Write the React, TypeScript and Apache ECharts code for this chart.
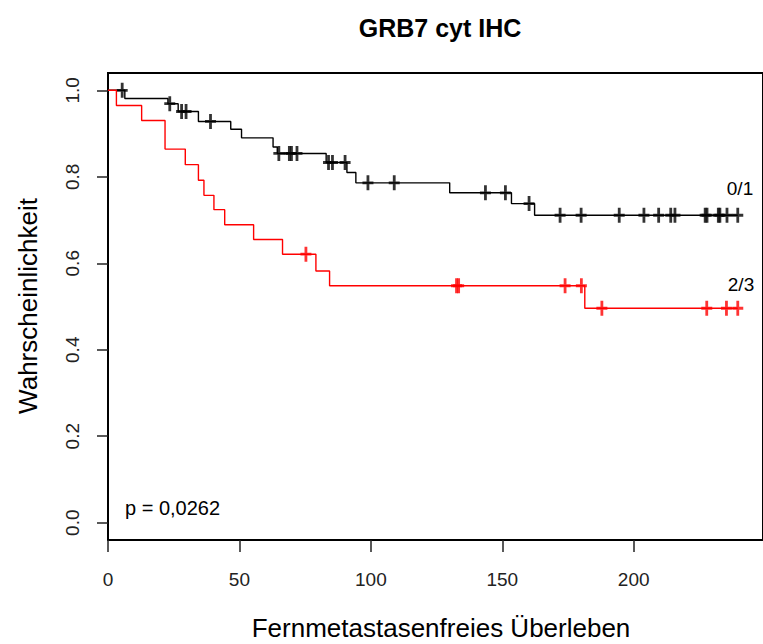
import React, { useEffect, useRef } from "react";
import * as echarts from "echarts";

// Group 0/1 (black): event times and survival after each step
const blackTimes = [0, 6.4, 22.8, 26.7, 34.4, 46.7, 50.8, 62.8, 64.4, 83.0, 90.9, 94.3, 130.0, 153.5, 162.3, 239.6];
const blackSurv = [1, 0.981, 0.969, 0.951, 0.928, 0.91, 0.89, 0.869, 0.854, 0.833, 0.81, 0.786, 0.763, 0.738, 0.711, 0.711];
const blackCensor = [5.4, 23.5, 28.0, 29.7, 39.0, 65.0, 69.0, 69.8, 71.9, 83.9, 85.4, 90.2, 98.9, 108.9, 143.6, 151.2, 160.2, 172.0, 180.0, 194.5, 203.9, 209.5, 214.1, 215.7, 227.2, 227.9, 232.2, 232.8, 235.5, 239.6];

// Group 2/3 (red)
const redTimes = [0, 3.2, 12.8, 21.7, 29.4, 34.4, 36.5, 40.3, 44.4, 55.4, 66.4, 79.1, 84.3, 181.4, 239.6];
const redSurv = [1, 0.965, 0.93, 0.864, 0.828, 0.792, 0.757, 0.724, 0.689, 0.655, 0.621, 0.582, 0.548, 0.496, 0.496];
const redCensor = [75.3, 132.6, 133.4, 173.9, 180.1, 187.9, 227.8, 235.3, 239.6];

const xTicks = [0, 50, 100, 150, 200];
const yTicks = [0, 0.2, 0.4, 0.6, 0.8, 1.0];

const groupLabels = ["0/1", "2/3"];
const titleText = "GRB7 cyt IHC";
const xTitle = "Fernmetastasenfreies Überleben";
const yTitle = "Wahrscheinlichkeit";
const pText = "p = 0,0262";

const FONT = "Liberation Sans, Arial, sans-serif";
const PLUS = "path://M4.1,0H6.9V6.1H11V8.9H6.9V15H4.1V8.9H0V6.1H4.1Z";

function survAt(times: number[], surv: number[], t: number): number {
  let s = surv[0];
  for (let i = 0; i < times.length; i++) {
    if (times[i] <= t) s = surv[i];
  }
  return s;
}

export default function App() {
  const ref = useRef<HTMLDivElement>(null);
  useEffect(() => {
    if (!ref.current) return;
    const chart = echarts.init(ref.current, null, { renderer: "svg" });
    const blackLine = blackTimes.map((t, i) => [t, blackSurv[i]]);
    const redLine = redTimes.map((t, i) => [t, redSurv[i]]);
    const blackPts = blackCensor.map((t) => [t, survAt(blackTimes, blackSurv, t)]);
    const redPts = redCensor.map((t) => [t, survAt(redTimes, redSurv, t)]);
    chart.setOption({
      animation: false,
      backgroundColor: "#fff",
      grid: {
        left: 108,
        top: 73,
        right: -11,
        bottom: 104,
        show: true,
        borderColor: "#000",
        borderWidth: 2,
        backgroundColor: "transparent",
      },
      xAxis: {
        type: "value",
        min: 0,
        max: 249.2,
        axisLine: { show: false, onZero: false },
        splitLine: { show: false },
        axisTick: {
          show: true,
          customValues: xTicks,
          length: 12,
          lineStyle: { color: "#222", width: 1.5 },
        },
        axisLabel: {
          customValues: xTicks,
          fontSize: 19,
          color: "#222",
          margin: 30,
          fontFamily: FONT,
        },
      },
      yAxis: {
        type: "value",
        min: -0.04,
        max: 1.04,
        axisLine: { show: false, onZero: false },
        splitLine: { show: false },
        axisTick: {
          show: true,
          customValues: yTicks,
          length: 11,
          lineStyle: { color: "#222", width: 1.5 },
        },
        axisLabel: {
          customValues: yTicks,
          rotate: 90,
          fontSize: 19,
          color: "#222",
          margin: 26,
          fontFamily: FONT,
          formatter: (v: number) => v.toFixed(1),
        },
      },
      series: [
        {
          type: "line",
          step: "end",
          data: blackLine,
          symbol: "none",
          lineStyle: { color: "#000", width: 1.4 },
          z: 2,
        },
        {
          type: "scatter",
          data: blackPts,
          symbol: PLUS,
          symbolSize: [11, 15],
          itemStyle: { color: "#000" },
          z: 3,
        },
        {
          type: "line",
          step: "end",
          data: redLine,
          symbol: "none",
          lineStyle: { color: "#ff0000", width: 1.4 },
          z: 4,
        },
        {
          type: "scatter",
          data: redPts,
          symbol: PLUS,
          symbolSize: [11, 15],
          itemStyle: { color: "#ff0000" },
          z: 5,
        },
      ],
      graphic: [
        {
          type: "text",
          x: 440,
          y: 28,
          style: {
            text: titleText,
            font: `bold 25px ${FONT}`,
            fill: "#000",
            textAlign: "center",
            textVerticalAlign: "middle",
          },
        },
        {
          type: "text",
          x: 441,
          y: 628,
          style: {
            text: xTitle,
            font: `26px ${FONT}`,
            fill: "#000",
            textAlign: "center",
            textVerticalAlign: "middle",
          },
        },
        {
          type: "text",
          x: 28,
          y: 306,
          rotation: Math.PI / 2,
          style: {
            text: yTitle,
            font: `26px ${FONT}`,
            fill: "#000",
            textAlign: "center",
            textVerticalAlign: "middle",
          },
        },
        {
          type: "text",
          x: 125,
          y: 508,
          style: {
            text: pText,
            font: `20px ${FONT}`,
            fill: "#000",
            textAlign: "left",
            textVerticalAlign: "middle",
          },
        },
        {
          type: "text",
          x: 740,
          y: 188,
          style: {
            text: groupLabels[0],
            font: `19px ${FONT}`,
            fill: "#000",
            textAlign: "center",
            textVerticalAlign: "middle",
          },
        },
        {
          type: "text",
          x: 741,
          y: 284,
          style: {
            text: groupLabels[1],
            font: `19px ${FONT}`,
            fill: "#000",
            textAlign: "center",
            textVerticalAlign: "middle",
          },
        },
      ],
    });
    return () => chart.dispose();
  }, []);
  return (
    <div
      ref={ref}
      style={{ position: "fixed", left: 0, top: 0, width: 763, height: 644 }}
    />
  );
}
